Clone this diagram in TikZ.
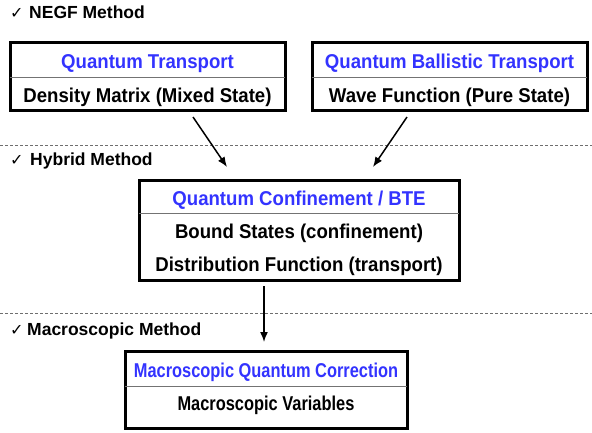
\documentclass[tikz,border=0pt]{standalone}
\usepackage{fontspec}
\setmainfont{Liberation Sans}
\newfontfamily\boxfont{Liberation Sans}[FakeStretch=0.93]
\newfontfamily\boxfontc{Liberation Sans}[FakeStretch=0.82]
\newfontfamily\symfont{DejaVu Sans}
\usetikzlibrary{arrows.meta}
\definecolor{titleblue}{RGB}{51,51,255}
\definecolor{dashgray}{RGB}{110,110,110}
\tikzset{
  boxframe/.style={draw=black, line width=3pt, inner sep=0pt},
  divider/.style={draw=black!55, line width=1pt},
  titletext/.style={anchor=base, inner sep=0pt, text=titleblue, font=\boxfont\bfseries\fontsize{20}{24}\selectfont},
  bodytext/.style={anchor=base, inner sep=0pt, text=black, font=\boxfont\bfseries\fontsize{20}{24}\selectfont},
  titletextc/.style={titletext, font=\boxfontc\bfseries\fontsize{20}{24}\selectfont},
  bodytextc/.style={bodytext, font=\boxfontc\bfseries\fontsize{20}{24}\selectfont},
  methodlabel/.style={anchor=base west, inner sep=0pt, font=\bfseries\fontsize{17.5}{21}\selectfont},
  checkmark/.style={anchor=base west, inner sep=0pt, font=\symfont\fontsize{16}{19}\selectfont},
  sepline/.style={draw=dashgray, line width=0.8pt, dash pattern=on 3pt off 2pt},
  flow/.style={draw=black, line width=1.5pt, -{Latex[length=10pt,width=8pt]}}
}
\begin{document}
\begin{tikzpicture}[x=1pt,y=-1pt]
\useasboundingbox (0,0) rectangle (592,432);

% method labels
\node[checkmark] (c1) at (10,18) {✓};
\node[methodlabel] (l1) at (29,18) {NEGF Method};
\node[checkmark] (c2) at (10,165) {✓};
\node[methodlabel] (l2) at (30,165) {Hybrid Method};
\node[checkmark] (c3) at (10,335) {✓};
\node[methodlabel] (l3) at (27,335) {Macroscopic Method};

% separators
\coordinate (s1w) at (0,145);
\coordinate (s1e) at (592,145);
\coordinate (s2w) at (0,313);
\coordinate (s2e) at (592,313);
\draw[sepline] (s1w) -- (s1e);
\draw[sepline] (s2w) -- (s2e);

% box 1
\node[boxframe, minimum width=275pt, minimum height=68pt] (b1) at (147.5,76) {};
\draw[divider] (10,77) -- (285,77);
\node[titletext] (b1t) at (147.5,68) {Quantum Transport};
\node[bodytext] (b1b) at (147.5,102) {Density Matrix (Mixed State)};

% box 2
\node[boxframe, minimum width=275pt, minimum height=68pt] (b2) at (449.5,76) {};
\draw[divider] (312,77) -- (587,77);
\node[titletext] (b2t) at (449.5,68) {Quantum Ballistic Transport};
\node[bodytext] (b2b) at (449.5,102) {Wave Function (Pure State)};

% box 3
\node[boxframe, minimum width=320pt, minimum height=100pt] (b3) at (299,230) {};
\draw[divider] (139,213) -- (459,213);
\node[titletext] (b3t) at (299,205) {Quantum Confinement / BTE};
\node[bodytext] (b3a) at (299,238) {Bound States (confinement)};
\node[bodytext] (b3b) at (299,271) {Distribution Function (transport)};

% box 4
\node[boxframe, minimum width=282pt, minimum height=77pt] (b4) at (266,389.5) {};
\draw[divider] (125,386) -- (407,386);
\node[titletextc] (b4t) at (266,377) {Macroscopic Quantum Correction};
\node[bodytextc] (b4b) at (266,410) {Macroscopic Variables};

% connectors
\coordinate (a1s) at (193,117);
\coordinate (a1e) at (227,167);
\coordinate (a2s) at (407,117);
\coordinate (a2e) at (373,167);
\coordinate (a3s) at (264,286);
\coordinate (a3e) at (264,342);
\draw[flow] (a1s) -- (a1e);
\draw[flow] (a2s) -- (a2e);
\draw[flow] (a3s) -- (a3e);
\end{tikzpicture}
\end{document}
